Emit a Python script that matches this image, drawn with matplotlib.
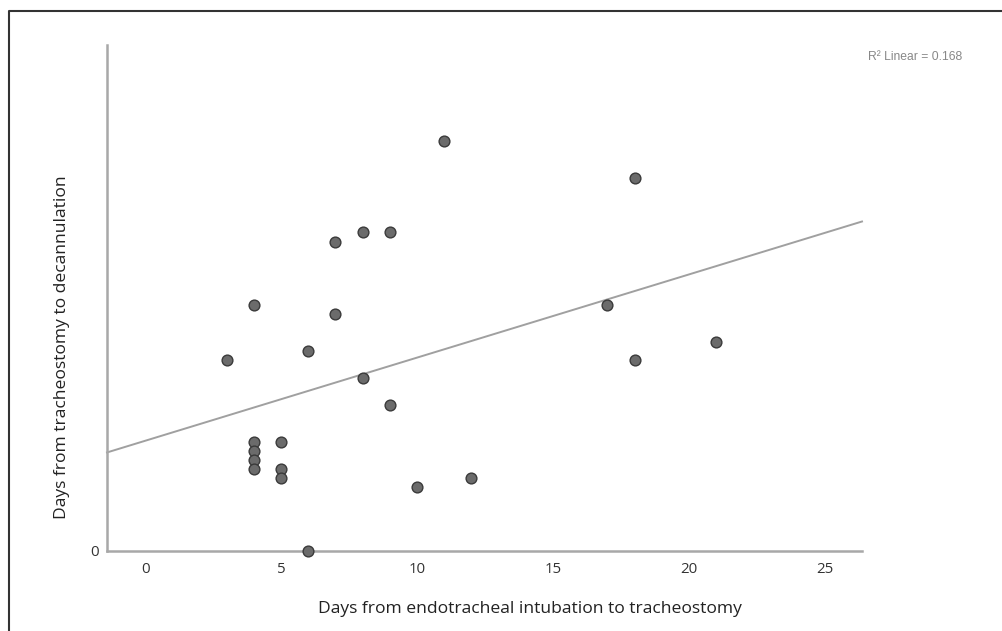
import numpy as np
import matplotlib
matplotlib.use("Agg")
import matplotlib.pyplot as plt
from matplotlib.lines import Line2D

# Data
intubation_days = [3, 4, 4, 4, 4, 4, 5, 5, 5, 6, 6, 7, 7, 8, 8, 9, 9, 10, 11, 12, 17, 18, 18, 21]
decannulation_days = [21, 27, 12, 11, 10, 9, 12, 9, 8, 22, 0, 34, 26, 35, 19, 35, 16, 7, 45, 8, 27, 41, 21, 23]
x_ticks = [0, 5, 10, 15, 20, 25]
y_ticks = [0]
r2_label = "R² Linear = 0.168"
x_label = "Days from endotracheal intubation to tracheostomy"
y_label = "Days from tracheostomy to decannulation"

fig = plt.figure(figsize=(10.02, 6.31), dpi=100)
ax = fig.add_axes([107/1002, 1-551/631, (862-107)/1002, (551-45)/631])

xlim = (-1.4, 26.36)
ax.set_xlim(*xlim)
ax.set_ylim(0, 55.6)

x = np.array(intubation_days, dtype=float)
y = np.array(decannulation_days, dtype=float)
slope, intercept = np.polyfit(x, y, 1)
lx = np.array(xlim)
ax.plot(lx, intercept + slope * lx, color="#a0a0a0", lw=1.4, zorder=2, clip_on=False)

ax.scatter(x, y, s=60, facecolor="#6b6b6b", edgecolor="#3a3a3a", linewidth=1.0,
           zorder=3, clip_on=False)

for s in ["top", "right"]:
    ax.spines[s].set_visible(False)
for s in ["left", "bottom"]:
    ax.spines[s].set_color("#a8a8a8")
    ax.spines[s].set_linewidth(1.8)

ax.set_xticks(x_ticks)
ax.set_yticks(y_ticks)
ax.tick_params(axis="both", length=0, labelsize=10.8, labelcolor="#333333")
ax.tick_params(axis="x", pad=8)
ax.tick_params(axis="y", pad=6)
for lab in ax.get_xticklabels() + ax.get_yticklabels():
    lab.set_family("Open Sans")

fig.text(530/1002, 1-609/631, x_label, ha="center", va="center",
         fontsize=12.6, color="#222222", family="Open Sans")
fig.text(62/1002, 1-347/631, y_label, ha="center", va="center", rotation=90,
         fontsize=12.6, color="#222222", family="Open Sans")
fig.text(915/1002, 1-57/631, r2_label, ha="center", va="center",
         fontsize=8.7, color="#888888", family="Liberation Sans")

# outer frame (top and left edges visible in reference)
fig.add_artist(Line2D([9/1002, 9/1002, 1.0], [0.0, 1-11/631, 1-11/631],
                      transform=fig.transFigure, color="#333333", lw=1.5))

fig.savefig("out.png", dpi=100, facecolor="white")
